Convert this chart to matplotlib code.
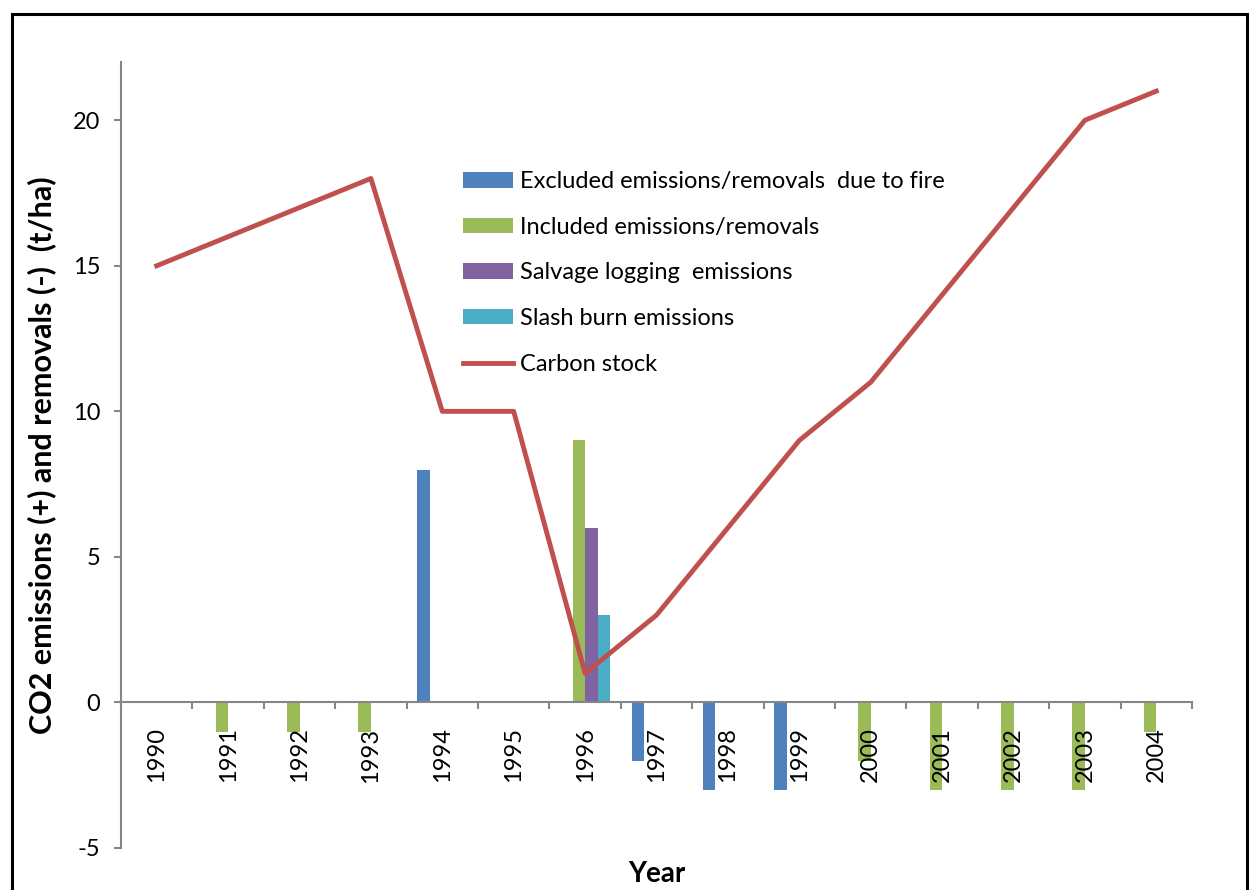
import numpy as np
import matplotlib
matplotlib.use("Agg")
import matplotlib.pyplot as plt
from matplotlib.patches import Rectangle

plt.rcParams['font.family'] = ['Lato', 'DejaVu Sans']
plt.rcParams['axes.unicode_minus'] = False

# data
years = [str(y) for y in range(1990, 2005)]
excluded = [0, 0, 0, 0, 8, 0, 0, -2, -3, -3, 0, 0, 0, 0, 0]
included = [0, -1, -1, -1, 0, 0, 9, 0, 0, 0, -2, -3, -3, -3, -1]
salvage = [0, 0, 0, 0, 0, 0, 6, 0, 0, 0, 0, 0, 0, 0, 0]
slash = [0, 0, 0, 0, 0, 0, 3, 0, 0, 0, 0, 0, 0, 0, 0]
carbon_stock = [15, 16, 17, 18, 10, 10, 1, 3, 6, 9, 11, 14, 17, 20, 21]

series = [
    ("Excluded emissions/removals  due to fire", excluded, "#4F81BD"),
    ("Included emissions/removals", included, "#9BBB59"),
    ("Salvage logging  emissions", salvage, "#8064A2"),
    ("Slash burn emissions", slash, "#4BACC6"),
]

fig = plt.figure(figsize=(12.5, 8.9), dpi=100)
ax = fig.add_axes([0.0968, 0.0472, 0.8568, 0.8831])
ax.set_axisbelow(False)

x = np.arange(len(years))
w = 0.175
handles = []
for i, (name, vals, col) in enumerate(series):
    b = ax.bar(x + (i - 1.5) * w, vals, width=w, color=col, label=name, zorder=2)
    handles.append(b)

ln, = ax.plot(x, carbon_stock, color="#C0504D", lw=3.5, label="Carbon stock", zorder=3)
handles.append(ln)

ax.set_xlim(-0.5, len(years) - 0.5)
ax.set_ylim(-5, 22)

gray = "#868686"
for s in ["top", "right"]:
    ax.spines[s].set_visible(False)
ax.spines["bottom"].set_position(("data", 0))
ax.spines["bottom"].set_color(gray)
ax.spines["left"].set_color(gray)
ax.spines["bottom"].set_linewidth(1.5)
ax.spines["left"].set_linewidth(1.5)

ax.set_xticks(x)
ax.set_xticklabels(years, rotation=90, fontsize=17)
ax.set_xticks(np.arange(-0.5, len(years)), minor=True)
ax.tick_params(axis="x", which="major", length=0, pad=18)
ax.tick_params(axis="x", which="minor", length=5, width=1.5, color=gray, direction="out")

ax.set_yticks([-5, 0, 5, 10, 15, 20])
ax.tick_params(axis="y", length=5, width=1.5, color=gray, labelsize=17, pad=10)

ax.set_ylabel("CO2 emissions (+) and removals (-)  (t/ha)", fontsize=22,
              fontweight="bold", labelpad=12)
ax.set_xlabel("Year", fontsize=20, fontweight="bold")
ax.xaxis.set_label_coords(0.5, -0.016)

ax.legend(handles=handles, loc="upper left", bbox_to_anchor=(0.319, 0.861),
          frameon=False, fontsize=17, handlelength=2.12, handleheight=0.62,
          labelspacing=1.04, handletextpad=0.3, borderaxespad=0, borderpad=0)

fig.patches.append(Rectangle((12 / 1250, -0.1), 1235 / 1250, 1.1 - 14 / 890,
                             transform=fig.transFigure, fill=False,
                             edgecolor="black", lw=2.2))

fig.savefig("out.png", dpi=100)
